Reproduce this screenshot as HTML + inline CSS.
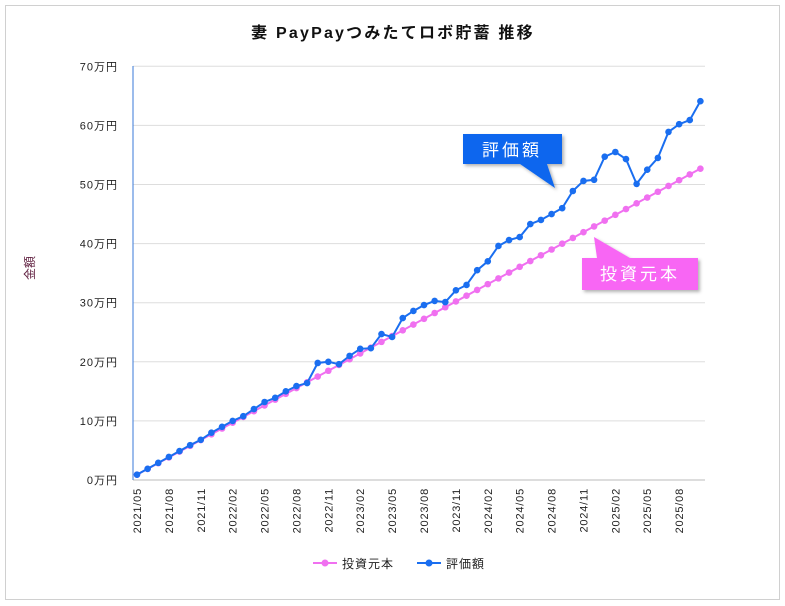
<!DOCTYPE html>
<html><head><meta charset="utf-8"><style>
html,body{margin:0;padding:0;background:#fff;}
svg{display:block;font-family:"Liberation Sans","Noto Sans CJK JP",sans-serif;}
</style></head><body>
<svg id="s" width="785" height="606" xmlns="http://www.w3.org/2000/svg">
<rect x="5.5" y="5.5" width="774" height="594" fill="#fff" stroke="#d0d0d0"/>
<text x="393" y="38" text-anchor="middle" font-size="16" font-weight="bold" fill="#111" letter-spacing="2.2">妻 PayPayつみたてロボ貯蓄 推移</text>
<text transform="translate(34,268) rotate(-90)" text-anchor="middle" font-size="12" fill="#602040">金額</text>
<g id="g"></g>
<defs><filter id="sh"><feDropShadow dx="2" dy="2" stdDeviation="1.5" flood-opacity="0.3"/></filter></defs>
<g filter="url(#sh)">
<polygon points="463,134 562,134 562,164 547,164 555,188 520,164 463,164" fill="#0a66ee"/>
<polygon points="582,258 597,258 594,237 630,258 698,258 698,290 582,290" fill="#f866f4"/>
</g>
<text x="512" y="156" text-anchor="middle" font-size="17" fill="#fff" letter-spacing="3">評価額</text>
<text x="640" y="280" text-anchor="middle" font-size="17" fill="#fff" letter-spacing="3">投資元本</text>
<line x1="313" y1="563" x2="337" y2="563" stroke="#f070f0" stroke-width="2"/><circle cx="325" cy="563" r="3.5" fill="#f070f0"/>
<text x="342" y="568" font-size="12" fill="#222" letter-spacing="1">投資元本</text>
<line x1="417" y1="563" x2="441" y2="563" stroke="#1a6ef0" stroke-width="2"/><circle cx="429" cy="563" r="3.5" fill="#1a6ef0"/>
<text x="446" y="568" font-size="12" fill="#222" letter-spacing="1">評価額</text>
</svg>
<script>
var g=document.getElementById('g'),h='';
function Y(v){return 480-v*5.91;}
for(var k=0;k<=7;k++){var y=Y(k*10);
 h+='<line x1="133" y1="'+y+'" x2="705" y2="'+y+'" stroke="'+(k==0?'#bbb':'#ddd')+'"/>';
 h+='<text x="118" y="'+(y+4)+'" text-anchor="end" font-size="11" fill="#222" letter-spacing="1">'+(k*10)+'万円</text>';}
h+='<line x1="133" y1="66" x2="133" y2="480" stroke="#3a7ad8"/>';
var labs=['2021/05','2021/08','2021/11','2022/02','2022/05','2022/08','2022/11','2023/02','2023/05','2023/08','2023/11','2024/02','2024/05','2024/08','2024/11','2025/02','2025/05','2025/08'];
for(var i=0;i<labs.length;i++){var x=137+i*3*10.63;
 h+='<text transform="translate('+(x+4)+',488) rotate(-90)" text-anchor="end" font-size="11" fill="#222" letter-spacing="0.8">'+labs[i]+'</text>';}
var b=[0.9,1.9,2.9,3.9,4.9,5.9,6.8,8,9,10,10.8,12,13.2,13.9,15,15.9,16.4,19.8,20,19.6,21,22.2,22.3,24.7,24.2,27.4,28.6,29.6,30.3,30.1,32.1,33,35.5,37,39.6,40.6,41.1,43.3,44,45,46,48.9,50.6,50.8,54.7,55.5,54.3,50.1,52.5,54.5,58.9,60.2,60.9,64.1];
var pp='',bp='',pc='',bc='';
for(var i=0;i<54;i++){var x=137+i*10.63,pv=0.9+i*0.977;
 pp+=x+','+Y(pv)+' ';bp+=x+','+Y(b[i])+' ';
 pc+='<circle cx="'+x+'" cy="'+Y(pv)+'" r="3.3" fill="#f070f0"/>';
 bc+='<circle cx="'+x+'" cy="'+Y(b[i])+'" r="3.3" fill="#1a6ef0"/>';}
h+='<polyline points="'+pp+'" fill="none" stroke="#f070f0" stroke-width="2"/>'+pc;
h+='<polyline points="'+bp+'" fill="none" stroke="#1a6ef0" stroke-width="2"/>'+bc;
g.innerHTML=h;
</script>
</body></html>
